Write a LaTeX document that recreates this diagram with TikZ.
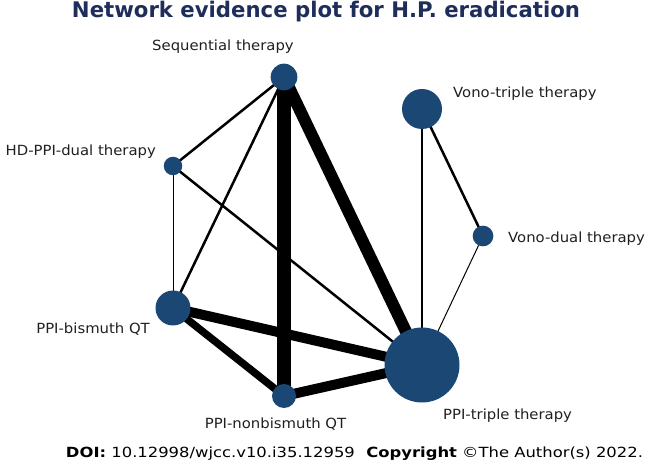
\documentclass[tikz,border=0pt]{standalone}
\usepackage{fontspec}
\setmainfont{DejaVu Sans}
\newfontfamily\lblfont[FakeStretch=1.06]{DejaVu Sans}
\definecolor{nodeblue}{RGB}{27,71,116}
\definecolor{titleblue}{RGB}{31,45,90}
\definecolor{labelgray}{RGB}{35,31,32}
\begin{document}
\begin{tikzpicture}[x=1pt,y=-1pt,
  trt/.style={circle,fill=nodeblue,inner sep=0pt,minimum size=#1},
  lbl/.style={font=\lblfont\fontsize{14}{16}\selectfont,text=labelgray,inner sep=0pt},
  edge/.style={line width=#1,black}]
\useasboundingbox (0,0) rectangle (646,465);
\fill[white] (0,0) rectangle (646,465);
% node centres
\coordinate (seq) at (284,77);
\coordinate (vt) at (422,109);
\coordinate (hd) at (173,166);
\coordinate (vd) at (483,236);
\coordinate (bis) at (173,308);
\coordinate (nbis) at (284,396);
\coordinate (tri) at (422,365);
% edges
\draw[edge=14.5pt] (seq) -- (nbis);
\draw[edge=12pt] (seq) -- (tri);
\draw[edge=2.5pt] (seq) -- (hd);
\draw[edge=2.5pt] (seq) -- (bis);
\draw[edge=2.5pt] (hd) -- (tri);
\draw[edge=1pt] (hd) -- (bis);
\draw[edge=10pt] (bis) -- (tri);
\draw[edge=7.5pt] (bis) -- (nbis);
\draw[edge=10pt] (nbis) -- (tri);
\draw[edge=2.5pt] (vt) -- (tri);
\draw[edge=2.5pt] (vt) -- (vd);
\draw[edge=1pt] (vd) -- (tri);
% node circles
\node[trt=26.7pt] (nseq) at (seq) {};
\node[trt=40pt] (nvt) at (vt) {};
\node[trt=18.5pt] (nhd) at (hd) {};
\node[trt=20.7pt] (nvd) at (vd) {};
\node[trt=35pt] (nbisn) at (bis) {};
\node[trt=24pt] (nnbis) at (nbis) {};
\node[trt=75pt] (ntri) at (tri) {};
% labels
\node[lbl,anchor=base] (lseq) at (223,50.7) {Sequential therapy};
\node[lbl,anchor=base west] (lvt) at (453,97.3) {Vono-triple therapy};
\node[lbl,anchor=base east] (lhd) at (156,156) {HD-PPI-dual therapy};
\node[lbl,anchor=base west] (lvd) at (508,243) {Vono-dual therapy};
\node[lbl,anchor=base east] (lbis) at (150,334) {PPI-bismuth QT};
\node[lbl,anchor=base] (lnbis) at (275.5,428.3) {PPI-nonbismuth QT};
\node[lbl,anchor=base west] (ltri) at (443,420) {PPI-triple therapy};
% title and footer
\node[font=\bfseries\fontsize{21.5}{24}\selectfont,text=titleblue,inner sep=0pt,anchor=base] (title) at (326,17.5) {\resizebox{508pt}{\height}{Network evidence plot for H.P. eradication}};
\node[font=\fontsize{14}{16}\selectfont,text=black,inner sep=0pt,anchor=base] (foot) at (354.5,457) {\resizebox{577pt}{\height}{\textbf{DOI:} 10.12998/wjcc.v10.i35.12959\hspace{0.7em}\textbf{Copyright} ©The Author(s) 2022.}};
\end{tikzpicture}
\end{document}
